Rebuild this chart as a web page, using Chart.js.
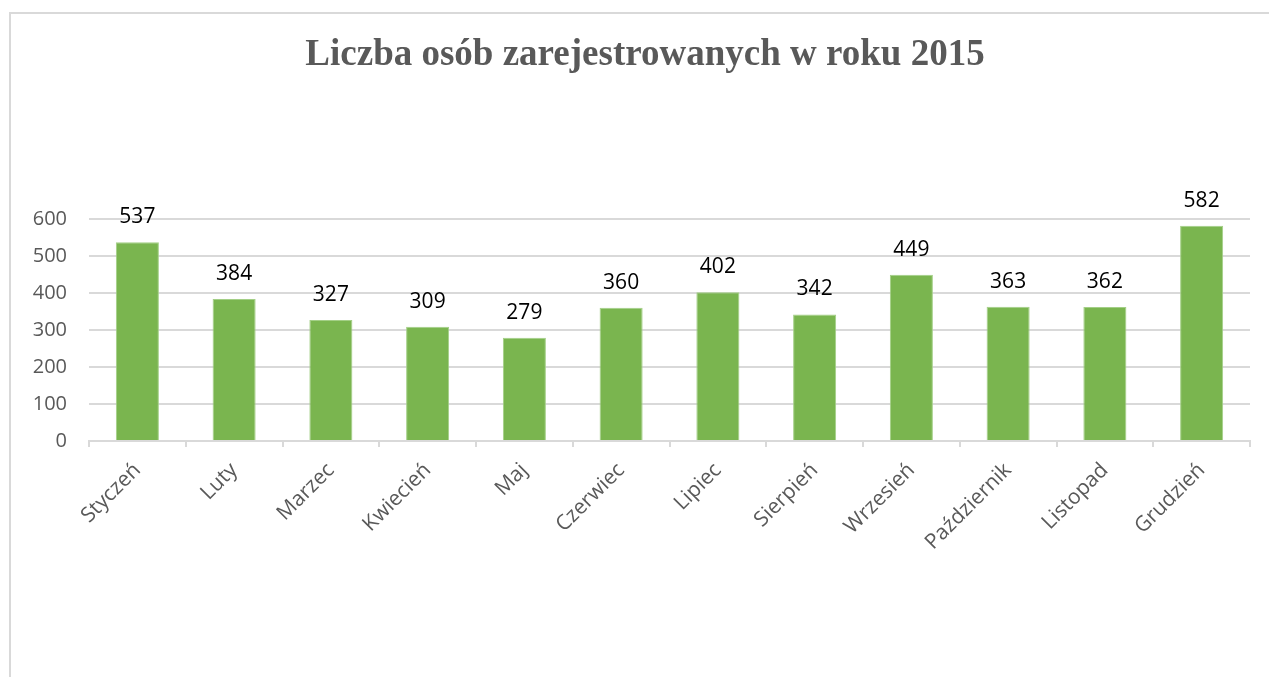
<!DOCTYPE html>
<html lang="pl">
<head>
<meta charset="utf-8">
<title>Liczba osób zarejestrowanych w roku 2015</title>
<script src="https://cdn.jsdelivr.net/npm/chart.js@4"></script>
<style>
  html, body { margin: 0; padding: 0; background: #fff; overflow: hidden; }
  .frame {
    position: absolute; left: 9px; top: 12px; right: -10px; bottom: -10px;
    border-left: 2px solid #d9d9d9; border-top: 2px solid #d9d9d9;
  }
  .wrap { position: absolute; left: 0; top: 0; width: 1269px; height: 677px; }
</style>
</head>
<body>
<div class="frame"></div>
<div class="wrap"><canvas id="chart"></canvas></div>
<script>
const months = ['Styczeń', 'Luty', 'Marzec', 'Kwiecień', 'Maj', 'Czerwiec',
                'Lipiec', 'Sierpień', 'Wrzesień', 'Październik', 'Listopad', 'Grudzień'];
const registered = [537, 384, 327, 309, 279, 360, 402, 342, 449, 363, 362, 582];
const yTicks = [0, 100, 200, 300, 400, 500, 600];

const titleText = 'Liczba osób zarejestrowanych w roku 2015';
const barColor = '#7ab54f';
const gridColor = '#d9d9d9';
const labelColor = '#595959';

// title is centred on the whole frame, not on the plot, so draw it ourselves
const frameTitle = {
    id: 'frameTitle',
    afterDraw(chart) {
        const ctx = chart.ctx;
        ctx.save();
        ctx.font = 'bold 37px "Liberation Serif", "Times New Roman", serif';
        ctx.fillStyle = labelColor;
        ctx.textAlign = 'center';
        ctx.textBaseline = 'alphabetic';
        ctx.fillText(titleText, 645, 65);
        ctx.restore();
    }
};

// labels above bars
const valueLabels = {
    id: 'valueLabels',
    afterDatasetsDraw(chart) {
        const ctx = chart.ctx;
        const meta = chart.getDatasetMeta(0);
        ctx.save();
        ctx.font = '21px "Open Sans"';
        ctx.fillStyle = '#000';
        ctx.textAlign = 'center';
        ctx.textBaseline = 'alphabetic';
        meta.data.forEach((bar, i) => {
            ctx.fillText(String(registered[i]), bar.x, bar.y - 19);
        });
        ctx.restore();
    }
};

const ctx = document.getElementById('chart').getContext('2d');
new Chart(ctx, {
    type: 'bar',
    data: {
        labels: months,
        datasets: [{
            label: 'Liczba osób',
            data: registered,
            backgroundColor: barColor,
            borderColor: '#a3cf86',
            borderWidth: 1,
            barPercentage: 0.445,
            categoryPercentage: 1
        }]
    },
    options: {
        responsive: true,
        maintainAspectRatio: false,
        animation: false,
        layout: { padding: { left: 0, right: 19, top: 219, bottom: 0 } },
        plugins: {
            legend: { display: false },
            tooltip: { enabled: false },
            title: { display: false }
        },
        scales: {
            x: {
                grid: {
                    offset: true,
                    drawOnChartArea: false,
                    drawTicks: true,
                    tickLength: 6,
                    color: gridColor,
                    lineWidth: 2
                },
                border: { display: true, color: gridColor, width: 2 },
                ticks: {
                    color: labelColor,
                    font: { family: '"Open Sans"', size: 21 },
                    minRotation: 45,
                    maxRotation: 45,
                    autoSkip: false,
                    padding: 11
                },
                afterFit(scale) { scale.height = 236; }
            },
            y: {
                min: 0,
                max: 600,
                afterBuildTicks(scale) { scale.ticks = yTicks.map(v => ({ value: v })); },
                grid: { color: gridColor, lineWidth: 2, drawTicks: false },
                border: { display: false },
                ticks: {
                    color: labelColor,
                    font: { family: '"Open Sans"', size: 20 },
                    padding: 22
                },
                afterFit(scale) { scale.width = 89; }
            }
        }
    },
    plugins: [valueLabels, frameTitle]
});
</script>
</body>
</html>
